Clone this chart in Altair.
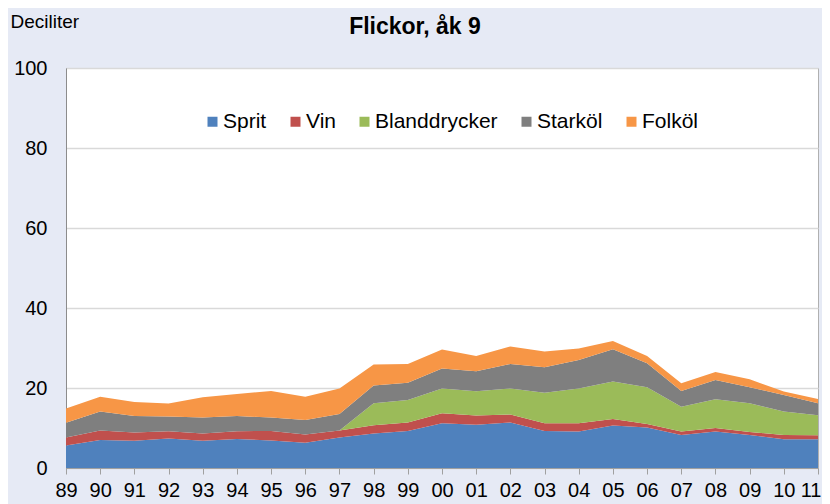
import altair as alt
import pandas as pd

years = ["89", "90", "91", "92", "93", "94", "95", "96", "97", "98", "99", "00",
         "01", "02", "03", "04", "05", "06", "07", "08", "09", "10", "11"]
series = ["Sprit", "Vin", "Blanddrycker", "Starköl", "Folköl"]
colors = ["#4F81BD", "#C0504D", "#9BBB59", "#7F7F7F", "#F79646"]

sprit = [5.6, 7.0, 6.8, 7.4, 6.8, 7.25, 6.9, 6.3, 7.6, 8.6, 9.25, 11.2,
         10.8, 11.4, 9.25, 9.1, 10.6, 10.1, 8.25, 9.1, 8.25, 7.2, 7.2]
vin = [2.0, 2.4, 2.1, 1.8, 1.8, 1.95, 2.35, 2.1, 1.8, 2.1, 2.15, 2.5,
       2.3, 2.0, 1.95, 2.1, 1.65, 0.9, 0.85, 0.9, 0.75, 1.05, 1.0]
blanddrycker = [0, 0, 0, 0, 0, 0, 0, 0, 0, 5.5, 5.6, 6.2,
                6.1, 6.5, 7.6, 8.7, 9.35, 9.2, 6.2, 7.2, 7.2, 5.85, 5.0]
starkol = [3.7, 4.7, 4.1, 3.7, 4.0, 3.8, 3.35, 3.6, 4.1, 4.4, 4.3, 5.0,
           5.0, 6.1, 6.4, 7.1, 8.1, 6.0, 3.95, 4.8, 4.0, 4.15, 3.0]
folkol = [3.6, 3.7, 3.5, 3.2, 5.1, 5.5, 6.65, 5.8, 6.4, 5.3, 4.7, 4.7,
          3.8, 4.4, 3.9, 2.9, 2.05, 1.8, 1.95, 2.0, 2.0, 0.85, 1.05]

values = [sprit, vin, blanddrycker, starkol, folkol]
rows = []
for k, (name, vals) in enumerate(zip(series, values)):
    for yr, v in zip(years, vals):
        rows.append({"year": yr, "serie": name, "value": v, "order": k})
df = pd.DataFrame(rows)

FONT = "Liberation Sans"
last = years[-1]

chart = alt.Chart(df).mark_area(strokeWidth=0).encode(
    x=alt.X("year:O", sort=years, scale=alt.Scale(type="point", padding=0),
            axis=alt.Axis(title=None, labelAngle=0, labelFontSize=20, labelFont=FONT,
                          labelColor="#000000", tickSize=6, tickColor="#A0A0A0",
                          domainColor="#A0A0A0", labelPadding=6, grid=False,
                          labelAlign={"condition": {"test": f"datum.label == '{last}'", "value": "right"},
                                      "value": "center"},
                          labelOffset={"condition": {"test": f"datum.label == '{last}'", "value": 3},
                                       "value": 0})),
    y=alt.Y("value:Q", stack="zero", scale=alt.Scale(domain=[0, 100]),
            axis=alt.Axis(title="Deciliter", titleAngle=0, titleAlign="left",
                          titleBaseline="middle", titleX=-56, titleY=-47,
                          titleFontSize=19, titleFontWeight="normal", titleFont=FONT,
                          titleColor="#000000",
                          values=[0, 20, 40, 60, 80, 100], labelFontSize=20,
                          labelFont=FONT, labelColor="#000000", ticks=False,
                          labelPadding=19, domainColor="#8C8C8C", gridColor="#D9D9D9",
                          gridWidth=1.5)),
    color=alt.Color("serie:N", sort=series,
                    scale=alt.Scale(domain=series, range=colors),
                    legend=alt.Legend(orient="none", legendX=136, legendY=43,
                                      direction="horizontal", title=None,
                                      labelFontSize=21, labelFont=FONT,
                                      labelColor="#000000", symbolType="square",
                                      symbolSize=100, symbolStrokeWidth=0,
                                      columnPadding=18, labelOffset=0)),
    order=alt.Order("order:Q", sort="ascending"),
).properties(
    width=752, height=400,
    padding={"left": 58, "top": 60, "right": 4, "bottom": 36},
    autosize=alt.AutoSizeParams(type="none"),
    title=alt.TitleParams("Flickor, åk 9", fontSize=23, fontWeight="bold", font=FONT,
                          color="#000000", anchor="middle", dx=-27, offset=-27),
).configure(background="#E6EAF5").configure_view(stroke="#B0B0B0", strokeWidth=1, fill="#FFFFFF")

chart.save("out.html", embed_options={"renderer": "svg", "actions": False})
